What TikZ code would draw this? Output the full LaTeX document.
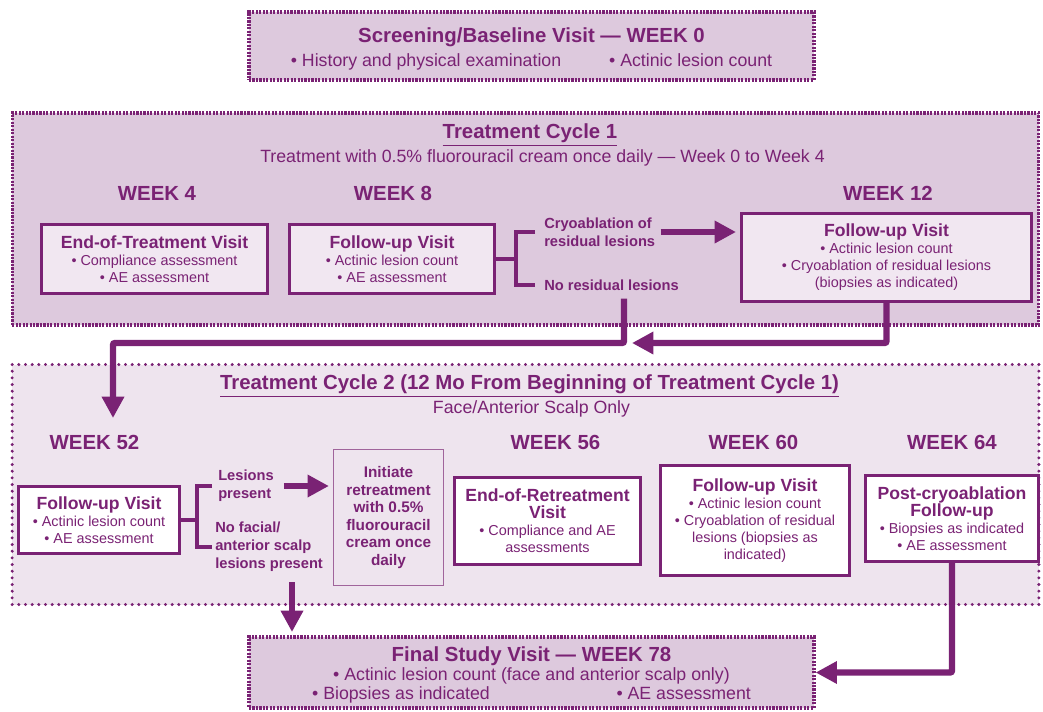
\documentclass[tikz,border=0pt]{standalone}
\usepackage{fontspec}
\setmainfont{Liberation Sans}
\usepackage{xcolor}
\usepackage{tikz}
\usetikzlibrary{arrows.meta}
\usetikzlibrary{positioning}

\definecolor{dkpurple}{RGB}{122,34,116}
\definecolor{midpurple}{RGB}{160,100,155}
\definecolor{c1fill}{RGB}{221,201,221}
\definecolor{c2fill}{RGB}{238,228,238}
\definecolor{boxfill}{RGB}{241,231,241}

\newcommand{\hdr}{\bfseries\fontsize{15.3}{18}\selectfont}
\newcommand{\subtxt}{\fontsize{13.3}{14.25}\selectfont}
\newcommand{\vttl}{\bfseries\fontsize{13.2}{15}\selectfont}
\newcommand{\vtxt}{\fontsize{10.8}{12.75}\selectfont}

\tikzset{
  panel/.style={draw=dkpurple, fill=c1fill, line width=2.4pt, dash pattern=on 1.6pt off 1pt,
    align=center, text=dkpurple, inner sep=0pt},
  panelb/.style={draw=dkpurple, fill=c2fill, line width=2.5pt, line cap=round,
    dash pattern=on 0pt off 5pt, inner sep=0pt},
  heading/.style={text=dkpurple, font=\hdr, inner sep=0pt},
  subt/.style={text=dkpurple, font=\subtxt, inner sep=0pt},
  visit/.style={draw=dkpurple, line width=2.25pt, fill=boxfill, align=center,
    text=dkpurple, font=\vtxt, inner sep=0pt},
  branch/.style={text=dkpurple, font=\bfseries\fontsize{11}{13.5}\selectfont,
    align=left, inner sep=0pt, anchor=west},
  retreat/.style={draw=midpurple, line width=0.9pt, fill=c2fill, text=dkpurple, align=center,
    font=\bfseries\fontsize{11.5}{13.2}\selectfont, inner sep=0pt},
  brk/.style={draw=dkpurple, line width=3pt},
  flow/.style={draw=dkpurple, line width=4.8pt, rounded corners=1.5pt,
    -{Triangle[length=16pt,width=16pt]}},
}

\begin{document}
\begin{tikzpicture}[x=0.75pt, y=-0.75pt]
  \useasboundingbox (0,0) rectangle (1043,711);

  % Cycle panels
  \node[panel, minimum width=770pt, minimum height=159pt] (cyc1) at (525.5,219) {};
  \node[panelb, minimum width=770pt, minimum height=180pt] (cyc2) at (525.5,484.5) {};

  % Define nodes
  \node[panel, font=\subtxt, minimum width=423.75pt, minimum height=51pt] (base) at (531.5,46)
    {{\hdr\rule{0pt}{16pt}Screening/Baseline Visit — WEEK 0}\\[4pt]
     • History and physical examination\hspace{36pt}• Actinic lesion count};

  \node[heading] (c1ttl) at (530,135) {\underline{Treatment Cycle 1}};
  \node[subt] (c1sub) at (542.5,158) {Treatment with 0.5\% fluorouracil cream once daily — Week 0 to Week 4};
  \node[heading] (w4) at (157,193) {WEEK 4};
  \node[heading] (w8) at (393,193) {WEEK 8};
  \node[heading] (w12) at (888,193) {WEEK 12};

  \node[visit, minimum width=169.5pt, minimum height=51.75pt] (eot) at (154.5,259)
    {{\vttl End-of-Treatment Visit}\\ • Compliance assessment\\ • AE assessment};
  \node[visit, minimum width=153.75pt, minimum height=51.75pt] (fu8) at (392,259)
    {{\vttl Follow-up Visit}\\ • Actinic lesion count\\ • AE assessment};
  \node[branch] (cryo) at (544,232) {Cryoablation of\\residual lesions};
  \node[branch] (nores) at (544,285) {No residual lesions};
  \node[visit, minimum width=217.5pt, minimum height=66pt] (fu12) at (886.5,257.5)
    {{\vttl Follow-up Visit}\\ • Actinic lesion count\\ • Cryoablation of residual lesions\\ (biopsies as indicated)};

  \node[heading] (c2ttl) at (529.5,386) {\underline{Treatment Cycle 2 (12 Mo From Beginning of Treatment Cycle 1)}};
  \node[subt] (c2sub) at (531.5,409) {Face/Anterior Scalp Only};
  \node[heading] (w52) at (94.5,442) {WEEK 52};
  \node[heading] (w56) at (555.5,442) {WEEK 56};
  \node[heading] (w60) at (753.5,442) {WEEK 60};
  \node[heading] (w64) at (952,442) {WEEK 64};

  \node[visit, fill=white, minimum width=120.75pt, minimum height=50.25pt] (fu52) at (99,520)
    {{\vttl Follow-up Visit}\\ • Actinic lesion count\\ • AE assessment};
  \node[branch] (lespres) at (218,486) {Lesions\\present};
  \node[branch] (nofac) at (215,547) {No facial/\\anterior scalp\\lesions present};
  \node[retreat, minimum width=82.5pt, minimum height=102pt] (init) at (388.5,517.5)
    {Initiate\\retreatment\\with 0.5\%\\fluorouracil\\cream once\\daily};
  \node[visit, fill=white, minimum width=139.5pt, minimum height=65.25pt] (eor) at (547.5,521)
    {{\vttl End-of-Retreatment}\\{\vttl Visit}\\ • Compliance and AE\\ assessments};
  \node[visit, fill=white, minimum width=141.75pt, minimum height=82.5pt] (fu60) at (755,520.5)
    {{\vttl Follow-up Visit}\\ • Actinic lesion count\\ • Cryoablation of residual\\ lesions (biopsies as\\ indicated)};
  \node[visit, fill=white, minimum width=129.75pt, minimum height=64.5pt] (post) at (952,518.5)
    {{\vttl Post-cryoablation}\\{\vttl Follow-up}\\ • Biopsies as indicated\\ • AE assessment};

  \node[panel, font=\subtxt, minimum width=423.75pt, minimum height=53.25pt] (final) at (531.5,672.5)
    {{\hdr\rule{0pt}{14pt}Final Study Visit — WEEK 78}\\
     • Actinic lesion count (face and anterior scalp only)\\
     • Biopsies as indicated\hspace{95pt}• AE assessment};

  % Connect nodes
  \coordinate (fork1) at (516,259);
  \coordinate (fork2) at (197,520);
  \coordinate (drop1) at (624,343);
  \coordinate (in52) at (113,418);
  \coordinate (in78) at (292,632);

  \draw[brk] (fu8.east) -- (fork1);
  \draw[brk] ([xshift=-6.75pt]cryo.west) -| (fork1) |- ([xshift=-6.75pt]nores.west);
  \draw[flow, shorten >=3pt] ([xshift=4pt]cryo.east) -- (fu12.west |- cryo.east);
  \draw[flow] (nores.south -| drop1) ++(0,8) -- (drop1) -| (in52);
  \draw[flow] (fu12.south) |- ([xshift=6pt]drop1);

  \draw[brk] (fu52.east) -- (fork2);
  \draw[brk] ([xshift=-4.5pt]lespres.west) -| (fork2) |- ([xshift=-2.25pt]nofac.west);
  \draw[flow, shorten >=3pt] ([xshift=7.5pt]lespres.east) -- (init.west |- lespres.east);
  \draw[flow] (nofac.south -| in78) ++(0,10) -- (in78);
  \draw[flow] (post.south) |- (final.east);

\end{tikzpicture}
\end{document}
